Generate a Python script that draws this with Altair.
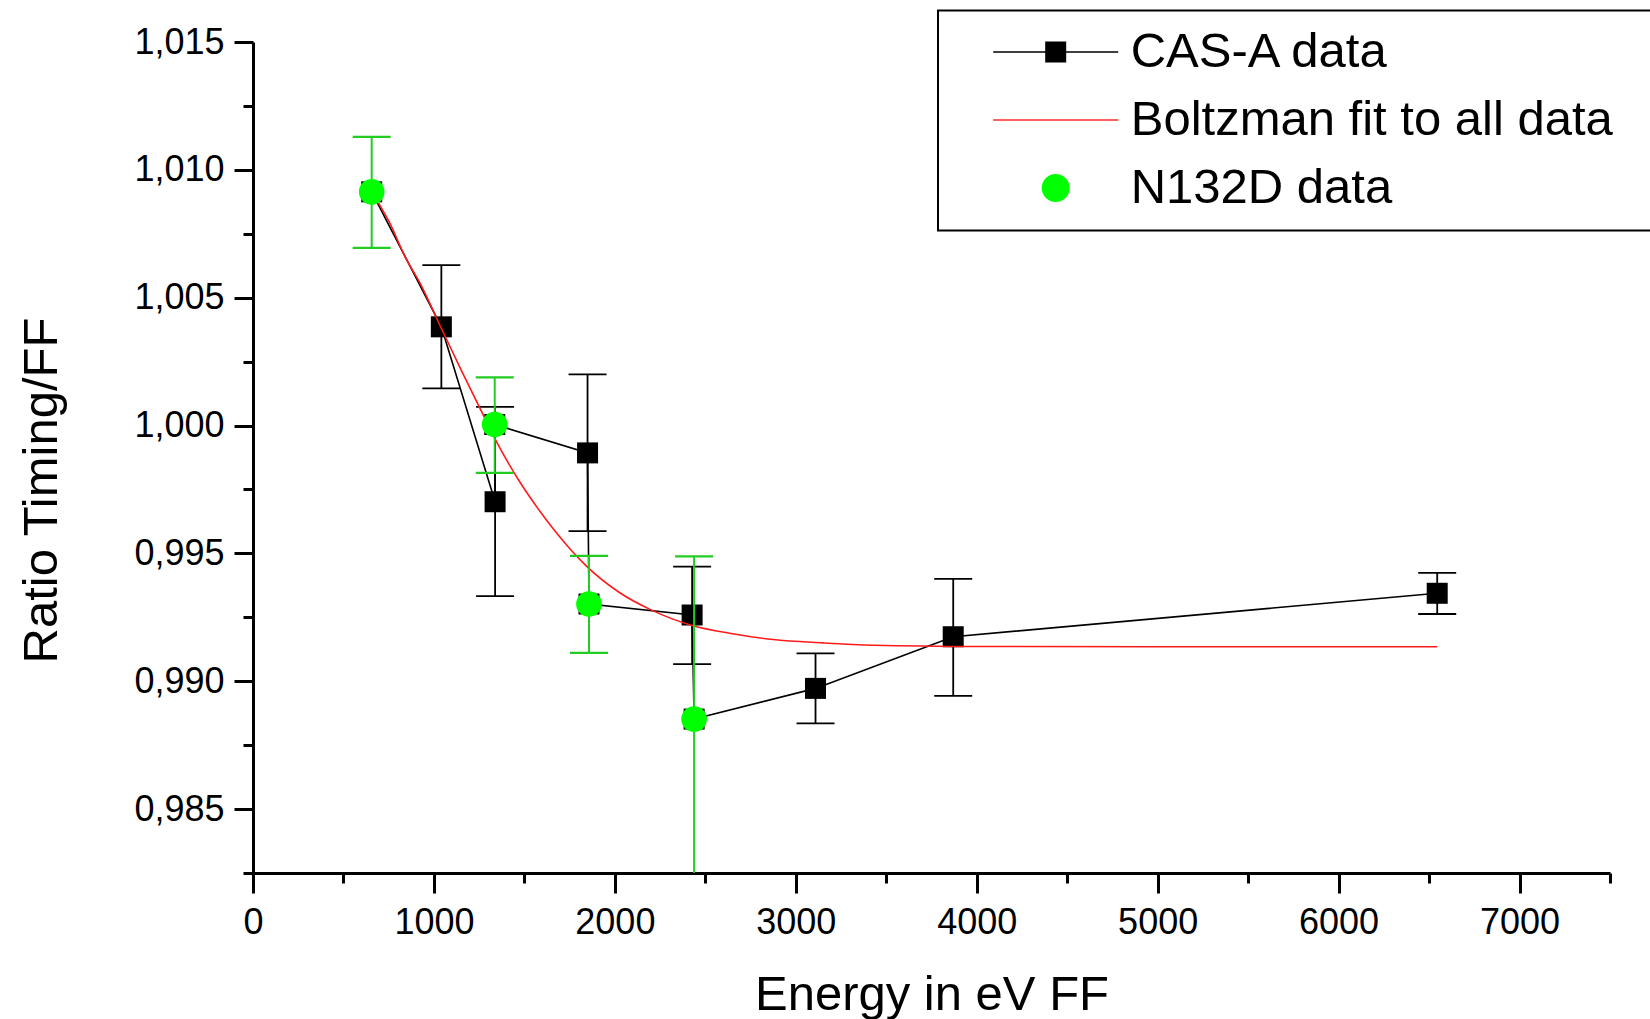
import altair as alt
import pandas as pd

# ---------------- data ----------------
cas_x = [1041, 1338, 1849, 2427, 3109, 3870, 6545]
cas_y = [1.00386, 0.99702, 0.99893, 0.99259, 0.98972, 0.99174, 0.99344]
cas_hi = [1.00627, 1.00073, 1.00200, 0.99448, 0.99109, 0.99400, 0.99424]
cas_lo = [1.00145, 0.99333, 0.99587, 0.99067, 0.98835, 0.98943, 0.99263]

n132_x = [656, 1336, 1857, 2438]
n132_y = [1.00914, 1.00004, 0.99302, 0.98852]
n132_hi = [1.01129, 1.00188, 0.99490, 0.99488]
n132_lo = [1.00695, 0.99815, 0.99111, 0.97800]

# connecting line through all data points (in drawing order)
line_x = [656, 1041, 1338, 1336, 1849, 1857, 2427, 2438, 3109, 3870, 6545]
line_y = [1.00914, 1.00386, 0.99702, 1.00004, 0.99893, 0.99302, 0.99259, 0.98852, 0.98972, 0.99174, 0.99344]

# Boltzmann fit curve
fit_x = [656, 750, 848, 921, 1041, 1150, 1250, 1336, 1474, 1570, 1658, 1750,
         1843, 2027, 2200, 2427, 2650, 2875, 3150, 3427, 4017, 5000, 6545]
fit_y = [1.00914, 1.00800, 1.00650, 1.00560, 1.00380, 1.00218, 1.00074, 0.99950,
         0.99780, 0.99680, 0.99597, 0.99519, 0.99450, 0.99346, 0.99279, 0.99218,
         0.99186, 0.99163, 0.99150, 0.99141, 0.99136, 0.99135, 0.99135]

series_names = ["CAS-A data", "Boltzman fit to all data", "N132D data"]
series_colors = ["#000000", "#ff2a2a", "#00ff00"]
legend_paths = [
    "M-5,-0.06H5V0.06H-5Z M-0.84,-0.84H0.84V0.84H-0.84Z",
    "M-5,-0.06H5V0.06H-5Z",
    "M-1.12,0A1.12,1.12,0,1,1,1.12,0A1.12,1.12,0,1,1,-1.12,0Z M50,0",
]

x_ticks = [0, 500, 1000, 1500, 2000, 2500, 3000, 3500, 4000, 4500, 5000, 5500,
           6000, 6500, 7000, 7500]
y_ticks = [0.9825, 0.985, 0.9875, 0.99, 0.9925, 0.995, 0.9975, 1.0, 1.0025,
           1.005, 1.0075, 1.01, 1.0125, 1.015]

# ---------------- tables ----------------
cas = pd.DataFrame({"x": cas_x, "y": cas_y, "hi": cas_hi, "lo": cas_lo})
n132 = pd.DataFrame({"x": n132_x, "y": n132_y, "hi": n132_hi, "lo": n132_lo})
line = pd.DataFrame({"x": line_x, "y": line_y, "o": list(range(len(line_x)))})
fit = pd.DataFrame({"x": fit_x, "y": fit_y})
leg = pd.DataFrame({"series": series_names})

FONT = "Liberation Sans"

x_axis = alt.Axis(
    values=x_ticks,
    labelExpr="datum.value % 1000 === 0 ? format(datum.value, 'd') : ''",
    tickSize={"condition": {"test": "datum.value % 1000 === 0", "value": 20}, "value": 10},
    tickWidth=3, tickColor="black", domainWidth=3, domainColor="black",
    labelFont=FONT, labelFontSize=36, labelColor="black", labelPadding=12,
    labelFlush=False, labelOverlap=False, grid=False,
    title="Energy in eV FF", titleFont=FONT, titleFontSize=49,
    titleFontWeight="normal", titleColor="black",
    titleY=136, titleBaseline="alphabetic",
)
y_axis = alt.Axis(
    values=y_ticks,
    labelExpr="round(datum.value * 400) % 2 === 0 ? replace(format(datum.value, '.3f'), '.', ',') : ''",
    tickSize={"condition": {"test": "round(datum.value * 400) % 2 === 0", "value": 19}, "value": 10},
    tickWidth=3, tickColor="black", domainWidth=3, domainColor="black",
    labelFont=FONT, labelFontSize=36, labelColor="black", labelPadding=10,
    labelFlush=False, labelOverlap=False, grid=False,
    title="Ratio Timing/FF", titleFont=FONT, titleFontSize=49,
    titleFontWeight="normal", titleColor="black",
    titleAngle=270, titleX=-197, titleY=448, titleAlign="center",
    titleBaseline="alphabetic",
)

xs = alt.Scale(domain=[0, 7500], nice=False, zero=False)
ys = alt.Scale(domain=[0.9825, 1.015], nice=False, zero=False)

X = alt.X("x:Q", scale=xs, axis=x_axis)
Y = alt.Y("y:Q", scale=ys, axis=y_axis)
YLO = alt.Y("lo:Q", scale=ys, axis=y_axis)
YHI = alt.Y("hi:Q", scale=ys, axis=y_axis)

# CAS-A error bars
cas_bar = alt.Chart(cas).mark_rule(color="black", strokeWidth=1.8, clip=True).encode(
    x=X, y=YLO, y2="hi:Q")
cas_cap_hi = alt.Chart(cas).mark_tick(color="black", orient="horizontal", size=38,
                                      thickness=1.8, opacity=1, clip=True).encode(x=X, y=YHI)
cas_cap_lo = alt.Chart(cas).mark_tick(color="black", orient="horizontal", size=38,
                                      thickness=1.8, opacity=1, clip=True).encode(x=X, y=YLO)

black_line = alt.Chart(line).mark_line(color="black", strokeWidth=1.6, clip=True).encode(
    x=X, y=Y, order="o:Q")
squares = alt.Chart(line).mark_square(color="black", size=441, opacity=1, clip=True).encode(
    x=X, y=Y)

red_line = alt.Chart(fit).mark_line(color="#ff1a1a", strokeWidth=1.6, interpolate="monotone",
                                    clip=True).encode(x=X, y=Y)

GREEN_BAR = "#22cc22"
n_bar = alt.Chart(n132).mark_rule(color=GREEN_BAR, strokeWidth=2, clip=True).encode(
    x=X, y=YLO, y2="hi:Q")
n_cap_hi = alt.Chart(n132).mark_tick(color=GREEN_BAR, orient="horizontal", size=38,
                                     thickness=2.2, opacity=1, clip=True).encode(x=X, y=YHI)
n_cap_lo = alt.Chart(n132).mark_tick(color=GREEN_BAR, orient="horizontal", size=38,
                                     thickness=2.2, opacity=1, clip=True).encode(x=X, y=YLO)
circles = alt.Chart(n132).mark_circle(color="#00ff00", size=660, opacity=1, clip=True).encode(
    x=X, y=Y)

legend = alt.Legend(
    orient="none", legendX=685, legendY=-31.5, title=None, direction="vertical",
    labelFont=FONT, labelFontSize=49, labelColor="black", labelLimit=0,
    symbolSize=625, symbolStrokeWidth=0, symbolOffset=76.2, labelOffset=50.5,
    padding=17, rowPadding=18, strokeColor="black", fillColor="white",
)
legend_layer = alt.Chart(leg).transform_filter("false").mark_point(
    filled=True, opacity=1, size=625).encode(
    x=X, y=alt.Y("x:Q", scale=ys, axis=y_axis),
    color=alt.Color("series:N", scale=alt.Scale(domain=series_names, range=series_colors),
                    legend=legend),
    shape=alt.Shape("series:N", scale=alt.Scale(domain=series_names, range=legend_paths),
                    legend=legend),
)

chart = alt.layer(
    cas_bar, cas_cap_hi, cas_cap_lo, black_line, squares, red_line,
    n_bar, n_cap_hi, n_cap_lo, circles, legend_layer,
).properties(
    width=1357, height=831,
    autosize=alt.AutoSizeParams(type="none"),
    padding={"left": 253, "top": 42, "right": 40, "bottom": 146},
    background="white",
).configure_view(stroke=None).configure_legend(strokeWidth=2)

chart.save("out.html", embed_options={"renderer": "svg", "actions": False})
